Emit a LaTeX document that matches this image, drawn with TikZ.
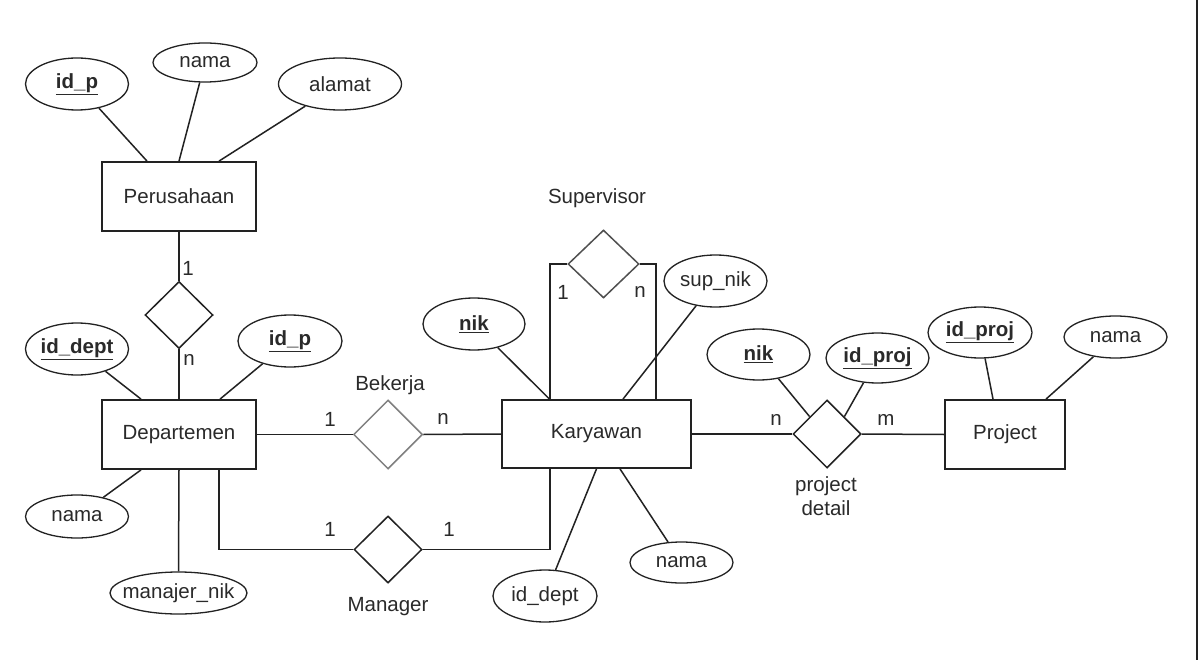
\documentclass[tikz,border=0pt]{standalone}
\usepackage{fontspec}
\setmainfont{Liberation Sans}
\usetikzlibrary{shapes.geometric}
\definecolor{ink}{HTML}{222222}
\definecolor{txt}{HTML}{2A2A2A}
\definecolor{soft}{HTML}{808080}
\definecolor{mid}{HTML}{505050}
\tikzset{
  every node/.style={font=\fontsize{20.5}{24}\selectfont, text=txt, inner sep=0pt},
  entity/.style={draw=ink, line width=1.8pt, rectangle, minimum width=154pt, minimum height=69pt},
  attr/.style={draw=ink, line width=1.3pt, ellipse, minimum width=103pt, minimum height=52pt},
  rel/.style={draw=ink, line width=1.5pt, diamond, minimum width=68pt, minimum height=67pt},
  link/.style={draw=ink, line width=1.5pt},
  card/.style={font=\fontsize{20.5}{24}\selectfont}
}
\newcommand{\pk}[1]{\underline{\textbf{#1}}}
\begin{document}
\begin{tikzpicture}[x=1pt,y=-1pt]
\useasboundingbox (0,0) rectangle (1198,660);
\fill[white] (0,0) rectangle (1198,660);

% Perusahaan and its attributes
\node[entity] (per) at (179,196.5) {Perusahaan};
\node[attr] (idp1) at (77,84) {\pk{id\_p}};
\node[attr, minimum width=104pt, minimum height=39pt] (nama1) at (205,62.5) {nama};
\node[attr, minimum width=123pt] (alamat) at (340,84) {alamat};

% Perusahaan -- Departemen
\node[rel] (rel1) at (179,315) {};

% Departemen and its attributes
\node[entity] (dep) at (179,434.5) {Departemen};
\node[attr] (iddept) at (77,349) {\pk{id\_dept}};
\node[attr, minimum width=104pt] (idp2) at (290,341) {\pk{id\_p}};
\node[attr, minimum height=43pt] (nama2) at (77,516.5) {nama};
\node[attr, inner xsep=-12pt, minimum width=137pt, minimum height=42pt] (mnik) at (178.5,593) {manajer\_nik};

% Relationships between Departemen and Karyawan
\node[rel, draw=soft, minimum width=69pt, minimum height=69pt] (bek) at (388,434.5) {};
\node[rel] (man) at (388,549.5) {};
\node[rel, draw=mid, minimum width=71pt, minimum height=68pt] (sup) at (603.5,264) {};

% Karyawan and its attributes
\node[entity, minimum width=189pt, minimum height=68pt] (kar) at (596.5,434) {Karyawan};
\node[attr, minimum width=102pt] (nik1) at (474,324) {\pk{nik}};
\node[attr] (supnik) at (715.5,281) {sup\_nik};
\node[attr, minimum width=104pt] (iddept2) at (545,596) {id\_dept};
\node[attr, minimum height=41pt] (nama3) at (681.5,562.5) {nama};

% project detail
\node[rel, minimum height=68pt] (pd) at (827,434) {};
\node[attr, minimum height=51pt] (nik2) at (758.5,354.5) {\pk{nik}};
\node[attr, minimum height=50pt] (idproj2) at (877.5,358) {\pk{id\_proj}};

% Project and its attributes
\node[entity, minimum width=120pt] (proj) at (1005,434.5) {Project};
\node[attr, minimum width=104pt, minimum height=51pt] (idproj) at (980,332.5) {\pk{id\_proj}};
\node[attr, minimum height=42pt] (nama4) at (1115.5,337) {nama};

% attribute links
\draw[link] (idp1) -- ([xshift=-32pt]per.north);
\draw[link] (nama1) -- (per.north);
\draw[link] (alamat) -- ([xshift=40pt]per.north);
\draw[link] (iddept) -- ([xshift=-38pt]dep.north);
\draw[link] (idp2) -- ([xshift=41pt]dep.north);
\draw[link] (nama2) -- ([xshift=-38pt]dep.south);
\draw[link] (mnik.north) -- (dep.south);
\draw[link] (nik1) -- ([xshift=-47pt]kar.north);
\draw[link] (supnik) -- ([xshift=26.5pt]kar.north);
\draw[link] (iddept2) -- (kar.south);
\draw[link] (nama3) -- ([xshift=23.5pt]kar.south);
\draw[link] (nik2) -- (pd.north west);
\draw[link] (idproj2) -- (pd.north east);
\draw[link] (idproj) -- ([xshift=-12pt]proj.north);
\draw[link] (nama4) -- ([xshift=41pt]proj.north);

% relationship links
\draw[link] (per.south) -- (rel1.north);
\draw[link] (rel1.south) -- (dep.north);
\draw[link] (dep.east) -- (bek.west);
\draw[link] (bek.east) -- (kar.west);
\draw[link] ([xshift=40pt]dep.south) |- (man.west);
\draw[link] (man.east) -| ([xshift=-46.5pt]kar.south);
\draw[link] (sup.west) -| ([xshift=-46.5pt]kar.north);
\draw[link] (sup.east) -| ([xshift=59.5pt]kar.north);
\draw[link] (kar.east) -- (pd.west);
\draw[link] (pd.east) -- (proj.west);

% cardinalities
\node[card] (c1) at (188,268) {1};
\node[card] (c2) at (189,360) {n};
\node[card] (c3) at (330,419) {1};
\node[card] (c4) at (443,419) {n};
\node[card] (c5) at (330,529) {1};
\node[card] (c6) at (449,529) {1};
\node[card] (c7) at (563,292) {1};
\node[card] (c8) at (640,292) {n};
\node[card] (c9) at (776,420) {n};
\node[card] (c10) at (886,420) {m};

% relationship names
\node (lbek) at (390,385) {Bekerja};
\node (lman) at (388,607) {Manager};
\node (lsup) at (597,198) {Supervisor};
\node[align=center] (lpd) at (826,496) {project\\detail};

% frame edge on the right
\fill[ink] (1195.5,0) rectangle (1198,660);
\end{tikzpicture}
\end{document}
